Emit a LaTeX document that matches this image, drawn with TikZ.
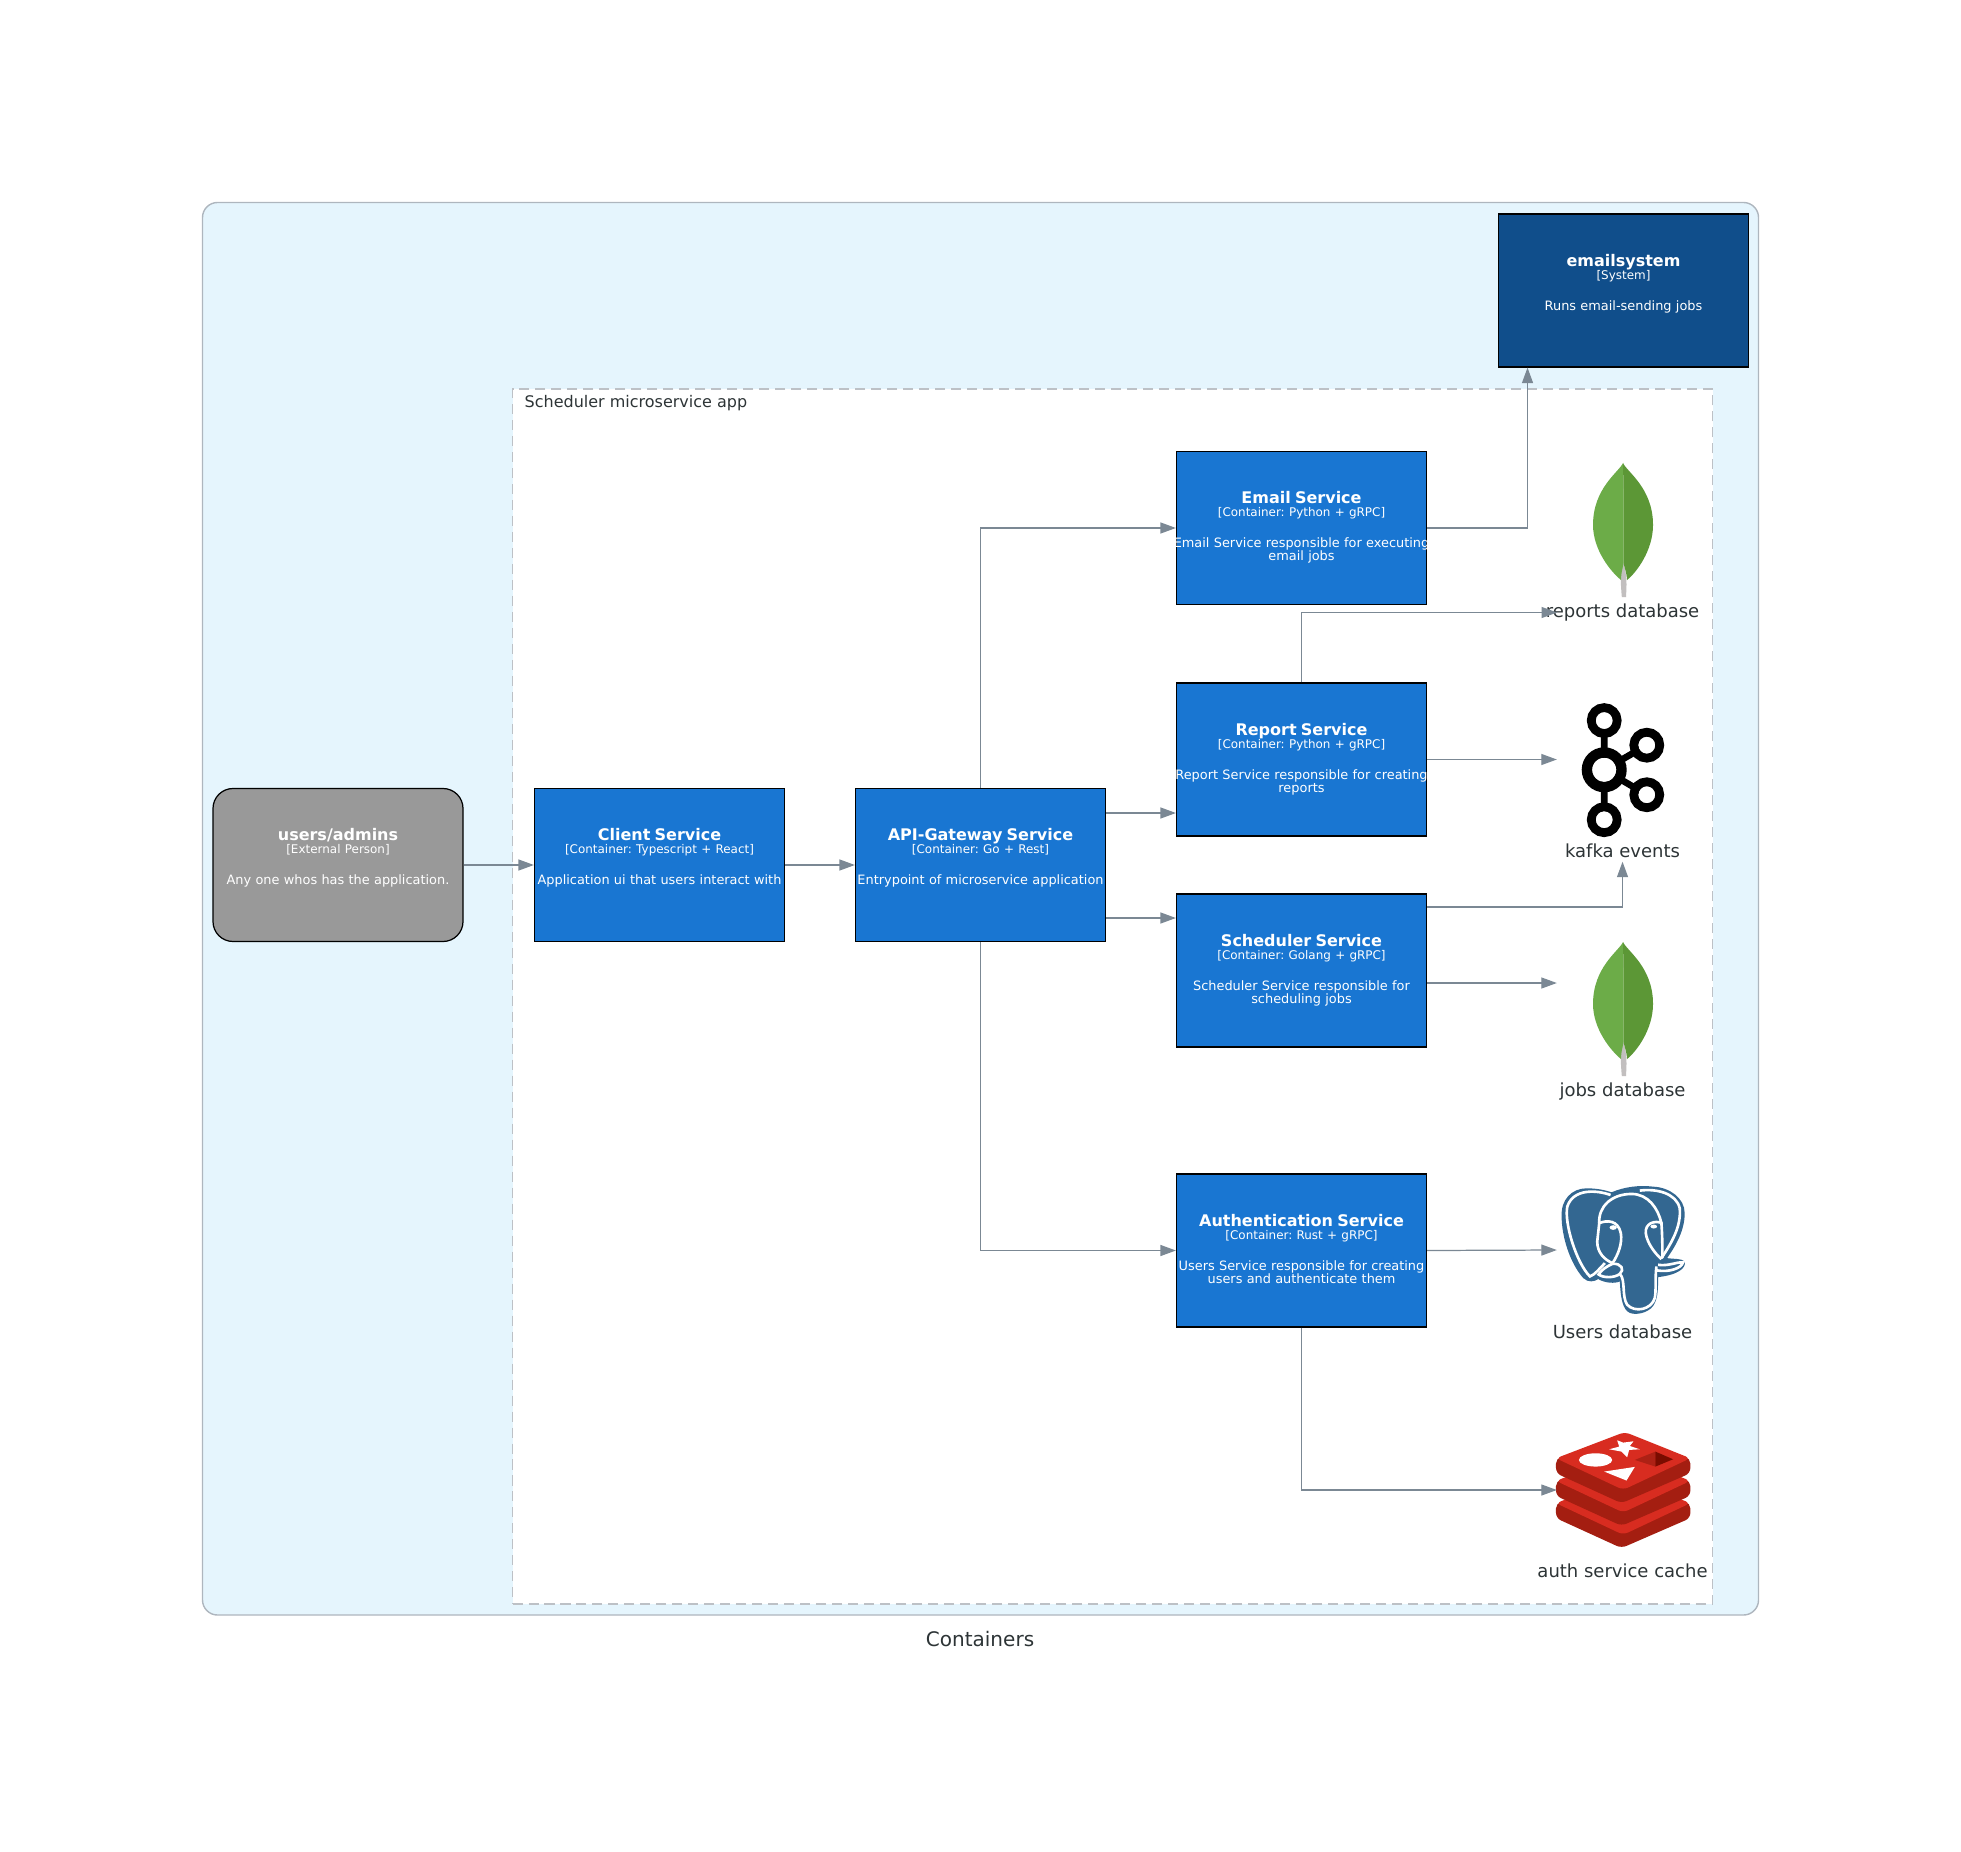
\documentclass[tikz,border=0pt]{standalone}
\usepackage{fontspec}
\setmainfont{DejaVu Sans}
\usepackage{xcolor}
\usetikzlibrary{arrows.meta,calc,positioning}
\definecolor{clusterfill}{HTML}{E5F5FD}
\definecolor{clusterline}{HTML}{AEB6BE}
\definecolor{dashline}{HTML}{BDC1C6}
\definecolor{clientblue}{HTML}{1976D2}
\definecolor{sysblue}{HTML}{104E8B}
\definecolor{persongrey}{HTML}{999999}
\definecolor{flowgrey}{HTML}{7B8894}
\definecolor{inkgrey}{HTML}{2D3436}
\definecolor{leaflight}{HTML}{6CAC48}
\definecolor{leafdark}{HTML}{5C9736}
\definecolor{leafstem}{HTML}{C2BFBF}
\definecolor{pgblue}{HTML}{336791}
\definecolor{redistop}{HTML}{D82C20}
\definecolor{redisside}{HTML}{A41E11}
\definecolor{redishole}{HTML}{AD2115}
\definecolor{redisdeep}{HTML}{7A0C00}
\lineskiplimit=-10pt
\newcommand{\boxfont}{\fontsize{3.67}{3.7}\selectfont\frenchspacing}
\newcommand{\boxtext}[4]{{\fontsize{4.55}{3.7}\selectfont\bfseries\vrule height 3.6pt width 0pt #1}\\[0pt]
{\fontsize{3.4}{3.7}\selectfont #2}\\[5.1pt]#3\\#4\vrule depth 1.2pt width 0pt}
\tikzset{
cbox/.style={draw=black,line width=0.35pt,fill=clientblue,text=white,text width=2.8cm,inner xsep=-.15cm,inner ysep=0pt,minimum height=1.53cm,align=center,font=\boxfont},
sysbox/.style={cbox,fill=sysblue},
personbox/.style={cbox,fill=persongrey,rounded corners=.2cm},
dbicon/.style={minimum width=1.3cm,minimum height=1.82cm,inner sep=0pt},
dblabel/.style={text=inkgrey,inner sep=0pt,font=\fontsize{5.12}{6}\selectfont},
flow/.style={line width=0.35pt,color=flowgrey,-{Triangle[length=.155cm,width=.11cm]}},
vh/.style={to path={|- (\tikztotarget)}},
hv/.style={to path={-| (\tikztotarget)}},
zoomed/.style={x=.0033333cm,y=-.0033333cm},
leaf/.pic={
\fill[leafstem] (.005,-.33) .. controls (-.03,-.44) and (-.025,-.52) .. (-.012,-.67) -- (.03,-.67) .. controls (.035,-.55) and (.045,-.48) .. (.005,-.33);
\fill[leaflight] (0,.67) .. controls (-.04,.58) and (-.30,.42) .. (-.30,.05) .. controls (-.30,-.2) and (-.12,-.42) .. (-.02,-.50) .. controls (-.02,-.42) and (0,-.38) .. (.005,-.33) -- (.005,.4) -- cycle;
\fill[leafdark] (0,.67) .. controls (.04,.58) and (.30,.42) .. (.30,.05) .. controls (.30,-.2) and (.14,-.42) .. (.04,-.50) .. controls (.035,-.42) and (.015,-.38) .. (.005,-.33) -- (.005,.4) -- cycle;
}}
\begin{document}
\begin{tikzpicture}
\useasboundingbox (0,0) rectangle (19.61,-18.51);
% clusters
\node[draw=clusterline,fill=clusterfill,line width=0.4pt,rounded corners=.15cm,minimum width=15.56cm,minimum height=14.125cm,inner sep=0pt] (containers) at (9.805,-9.0875) {};
\node[draw=dashline,fill=white,dash pattern=on 2.85pt off 1.7pt,line width=0.45pt,minimum width=12cm,minimum height=12.15cm,inner sep=0pt] (schedulerapp) at (11.125,-9.965) {};
\node[text=inkgrey,inner sep=0pt,anchor=west,font=\fontsize{4.55}{5.5}\selectfont] (schedulerlabel) at (5.24,-4.03) {Scheduler microservice app};
\node[text=inkgrey,inner sep=0pt,font=\fontsize{5.7}{7}\selectfont] (containerslabel) at (9.8,-16.39) {Containers};
% boxes
\node[personbox] (users) at (3.38,-8.65) {\boxtext{users/admins}{[External Person]}{Any one whos has the application.}{}};
\node[cbox] (client) at (6.595,-8.65) {\boxtext{Client Service}{[Container: Typescript + React]}{Application ui that users interact with}{}};
\node[cbox] (api) at (9.805,-8.65) {\boxtext{API-Gateway Service}{[Container: Go + Rest]}{Entrypoint of microservice application}{}};
\node[cbox] (email) at (13.015,-5.28) {\boxtext{Email Service}{[Container: Python + gRPC]}{Email Service responsible for executing}{email jobs}};
\node[cbox] (report) at (13.015,-7.595) {\boxtext{Report Service}{[Container: Python + gRPC]}{Report Service responsible for creating}{reports}};
\node[cbox] (scheduler) at (13.015,-9.705) {\boxtext{Scheduler Service}{[Container: Golang + gRPC]}{Scheduler Service responsible for}{scheduling jobs}};
\node[cbox] (auth) at (13.015,-12.505) {\boxtext{Authentication Service}{[Container: Rust + gRPC]}{Users Service responsible for creating}{users and authenticate them}};
\node[sysbox] (emailsystem) at (16.235,-2.905) {\boxtext{emailsystem}{[System]}{Runs email-sending jobs}{}};
% icons
\node[dbicon] (reportsdb) at (16.225,-5.30) {};
\node[dbicon] (kafka) at (16.225,-7.70) {};
\node[dbicon] (jobsdb) at (16.225,-10.09) {};
\node[dbicon] (usersdb) at (16.225,-12.50) {};
\node[dbicon] (redis) at (16.225,-14.90) {};
\pic at (16.23,-5.30) {leaf};
\pic at (16.23,-10.09) {leaf};
\begin{scope}[shift={(15.40,-6.80)},zoomed]
\draw[line width=1.9pt] (193,122) -- (193,420) (193,270) -- (321,196) (193,270) -- (321,345);
\foreach \x/\y in {193/122,321/196,321/345,193/420} {
\fill[white] (\x,\y) circle (26);
\draw[line width=2.5pt] (\x,\y) circle (39);
}
\fill[white] (193,270) circle (37);
\draw[line width=2.95pt] (193,270) circle (52);
\end{scope}
\begin{scope}[shift={(15.40,-11.70)},zoomed]
\fill[pgblue] (65,140) .. controls (62,90) and (95,55) .. (140,55) .. controls (170,55) and (195,60) .. (215,67) .. controls (255,50) and (300,45) .. (340,50) .. controls (390,52) and (435,85) .. (435,130) .. controls (435,180) and (410,225) .. (382,265) .. controls (400,268) and (425,265) .. (435,275) .. controls (440,295) and (415,315) .. (355,322) .. controls (355,350) and (355,380) .. (345,400) .. controls (335,425) and (300,435) .. (280,432) .. controls (255,430) and (243,405) .. (240,335) .. controls (225,342) and (195,340) .. (175,328) .. controls (165,335) and (145,340) .. (130,325) .. controls (90,280) and (65,200) .. (65,140) -- cycle;
\draw[white,line width=.75pt] (212,75) .. controls (170,60) and (100,55) .. (82,110) .. controls (72,160) and (110,280) .. (150,320) .. controls (165,315) and (180,295) .. (195,280);
\draw[white,line width=.75pt] (178,160) .. controls (175,110) and (215,72) .. (275,72) .. controls (325,72) and (355,115) .. (365,160) .. controls (368,200) and (368,240) .. (368,265);
\draw[white,line width=.75pt] (300,62) .. controls (350,55) and (410,70) .. (420,115) .. controls (425,170) and (395,220) .. (365,265);
\draw[white,line width=.75pt] (178,160) .. controls (200,150) and (235,150) .. (243,190) .. controls (248,220) and (235,255) .. (218,280) .. controls (195,270) and (172,250) .. (172,215) -- cycle;
\draw[white,line width=.75pt] (218,282) .. controls (245,280) and (255,300) .. (240,312) .. controls (225,325) and (190,325) .. (176,314) .. controls (185,300) and (200,290) .. (218,282);
\draw[white,line width=.75pt] (240,312) .. controls (258,330) and (245,380) .. (262,405) .. controls (285,430) and (335,420) .. (345,385) .. controls (350,360) and (345,330) .. (350,290);
\draw[white,line width=.75pt] (368,160) .. controls (345,150) and (315,160) .. (318,190) .. controls (322,220) and (345,250) .. (365,268);
\draw[white,line width=.75pt] (355,285) .. controls (385,290) and (415,275) .. (430,278) .. controls (425,295) and (390,308) .. (352,302);
\fill[white] (220,173) ellipse (11 and 7);
\fill[white] (342,170) ellipse (10 and 6);
\end{scope}
\begin{scope}[shift={(15.40,-14.20)},zoomed]
\foreach \dy in {135,68,0} {
\fill[redisside,rounded corners=1.5pt] (48,115+\dy) -- (48,160+\dy) -- (245,250+\dy) -- (452,160+\dy) -- (452,115+\dy) -- (250,60+\dy) -- cycle;
\fill[redistop,rounded corners=1.5pt] (48,115+\dy) -- (255,36+\dy) -- (452,115+\dy) -- (250,210+\dy) -- cycle;
}
\fill[white] (232,61) -- (250,68) -- (281,64) -- (270,78) -- (300,88) -- (268,90) -- (262,112) -- (245,95) -- (208,88) -- (238,80) -- cycle;
\fill[white] (167,120) ellipse (50 and 20);
\fill[white] (193,155) -- (285,141) -- (260,182) -- cycle;
\fill[redishole] (285,120) -- (347,95) -- (347,140) -- cycle;
\fill[redisdeep] (347,95) -- (400,118) -- (347,140) -- cycle;
\end{scope}
\node[dblabel] (reportslabel) at (16.225,-6.125) {reports database};
\node[dblabel] (kafkalabel) at (16.225,-8.51) {kafka events};
\node[dblabel] (jobslabel) at (16.225,-10.915) {jobs database};
\node[dblabel] (userslabel) at (16.225,-13.315) {Users database};
\node[dblabel] (redislabel) at (16.225,-15.705) {auth service cache};
% connectors
\coordinate (reportsin) at (15.57,-6.125);
\path[flow]
(users) edge (client)
(client) edge (api)
(api.north) edge[vh] (email.west)
([yshift=.52cm]api.east) edge ([yshift=.52cm]api.east -| report.west)
([yshift=-.53cm]api.east) edge ([yshift=-.53cm]api.east -| scheduler.west)
(api.south) edge[vh] (auth.west)
(email.east) edge[hv] ([xshift=-.96cm]emailsystem.south)
(report.north) edge[vh] (reportsin)
(report.east) edge (report.east -| kafka.west)
([yshift=-.135cm]scheduler.north east) edge[hv] (kafka.south)
([yshift=-.125cm]scheduler.east) edge ([yshift=-.125cm]scheduler.east -| jobsdb.west)
(auth.east) edge (usersdb.west)
(auth.south) edge[vh] (redis.west);
\end{tikzpicture}
\end{document}
